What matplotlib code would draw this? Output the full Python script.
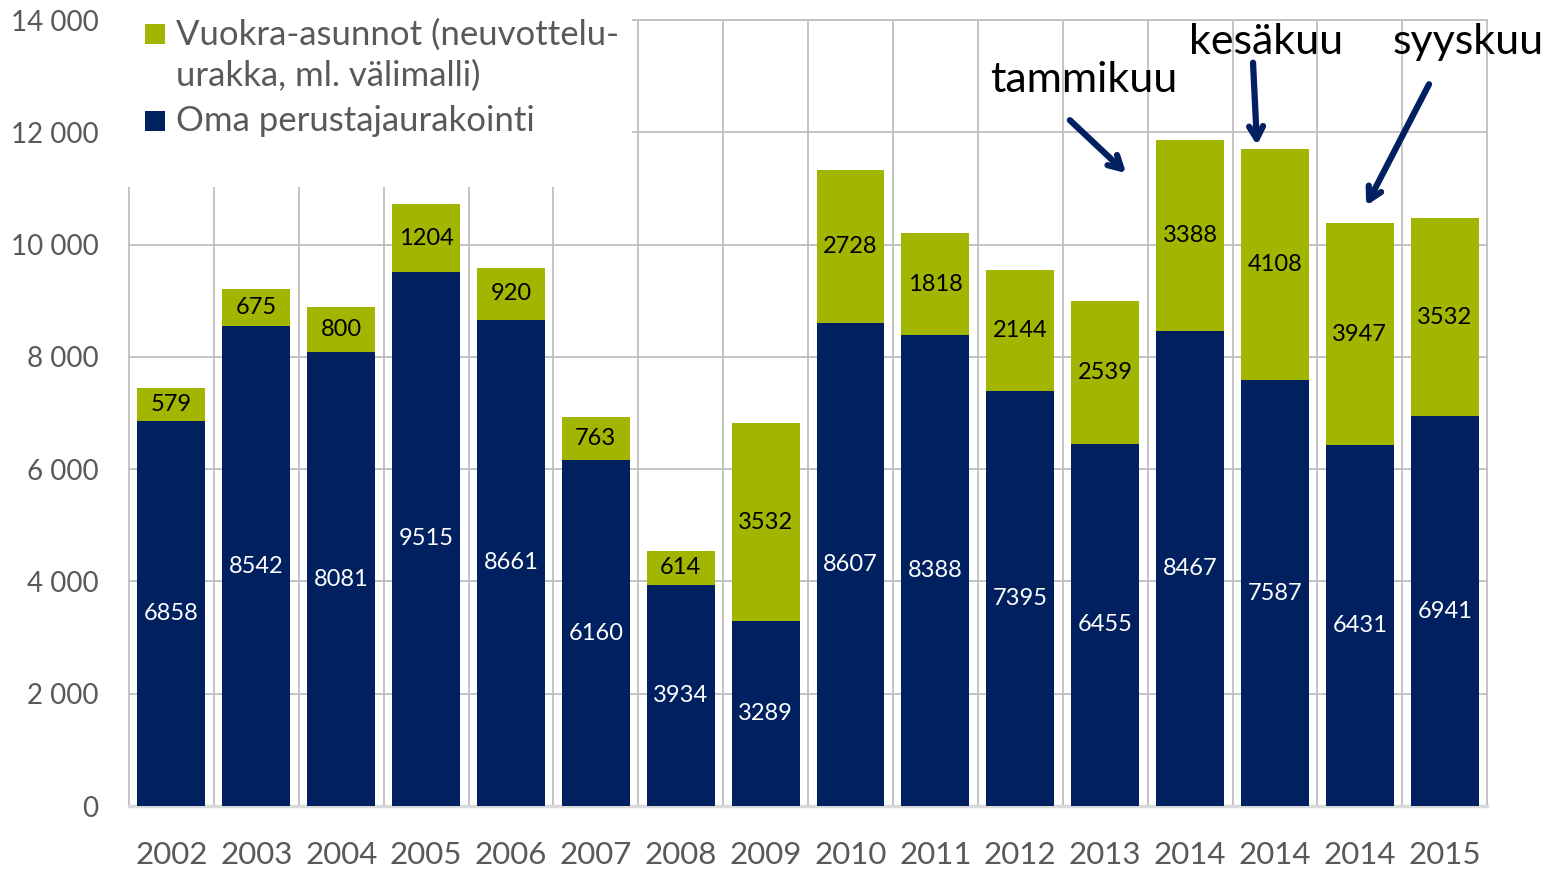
import matplotlib
matplotlib.use("Agg")
import matplotlib.pyplot as plt
from matplotlib.patches import Rectangle
import numpy as np

plt.rcParams['font.family'] = ['Lato', 'DejaVu Sans']

vuodet = ['2002', '2003', '2004', '2005', '2006', '2007', '2008', '2009',
          '2010', '2011', '2012', '2013', '2014', '2014', '2014', '2015']
oma = [6858, 8542, 8081, 9515, 8661, 6160, 3934, 3289,
       8607, 8388, 7395, 6455, 8467, 7587, 6431, 6941]
vuokra = [579, 675, 800, 1204, 920, 763, 614, 3532,
          2728, 1818, 2144, 2539, 3388, 4108, 3947, 3532]
y_ticks = [0, 2000, 4000, 6000, 8000, 10000, 12000, 14000]

# nuolet: (teksti, tekstin paikka, nuolen alku, nuolen kärki) datakoordinaateissa
nuolet = [
    ('tammikuu', (10.75, 12930), (10.56, 12250), (11.27, 11240)),
    ('kesäkuu', (12.90, 13610), (12.74, 13290), (12.79, 11720)),
    ('syyskuu', (15.28, 13610), (14.83, 12900), (14.06, 10650)),
]

vihrea = '#A2B500'
sininen = '#002060'
harmaa = '#BFBFBF'
W, H = 1554, 871

fig = plt.figure(figsize=(W / 100, H / 100), dpi=100)
ax = fig.add_axes([0.083, 0.0746, 0.874, 0.9024])

x = np.arange(len(vuodet))
ax.bar(x, oma, width=0.8, color=sininen, zorder=3)
ax.bar(x, vuokra, width=0.8, bottom=oma, color=vihrea, zorder=3)

for i in range(len(x)):
    ax.text(x[i], oma[i] / 2, str(oma[i]), ha='center', va='center',
            color='white', fontsize=17, zorder=4)
    ax.text(x[i], oma[i] + vuokra[i] / 2, str(vuokra[i]), ha='center', va='center',
            color='black', fontsize=17, zorder=4)

ax.set_xlim(-0.5, len(x) - 0.5)
ax.set_ylim(0, 14000)
ax.set_yticks(y_ticks)
ax.set_yticklabels([f'{v:,}'.replace(',', ' ') for v in y_ticks])
ax.set_xticks(x)
ax.set_xticklabels(vuodet)
ax.set_xticks(x[:-1] + 0.5, minor=True)
ax.tick_params(axis='both', which='both', length=0)
ax.tick_params(axis='y', labelsize=20, colors='#595959', pad=22)
ax.tick_params(axis='x', labelsize=22.5, colors='#595959', pad=25)

ax.grid(axis='y', which='major', color=harmaa, lw=1.3, zorder=0)
ax.grid(axis='x', which='minor', color=harmaa, lw=1.3, zorder=0)
ax.grid(axis='x', which='major', visible=False)
for s in ['left', 'right', 'top']:
    ax.spines[s].set_color(harmaa)
    ax.spines[s].set_linewidth(1.3)
ax.spines['bottom'].set_color('#D9D9D9')
ax.spines['bottom'].set_linewidth(2.5)

# legendan valkoinen tausta peittää ruudukon
ax.add_patch(Rectangle((-0.02, 0.7875), 0.39, 0.25, transform=ax.transAxes,
                       facecolor='white', edgecolor='none', zorder=2.6, clip_on=False))

# legenda käsin, jotta vihreä neliö on ensimmäisen rivin kohdalla
selitteet = [('Vuokra-asunnot (neuvottelu-\nurakka, ml. välimalli)', vihrea, 34, 55.5),
             ('Oma perustajaurakointi', sininen, 121, 121)]
for teksti, vari, y_nelio, y_teksti in selitteet:
    fig.patches.append(Rectangle((145 / W, 1 - (y_nelio + 10) / H), 20 / W, 20 / H,
                                 transform=fig.transFigure, facecolor=vari,
                                 edgecolor='none', zorder=5))
    fig.text(176 / W, 1 - y_teksti / H, teksti, ha='left', va='center',
             fontsize=25, color='#595959', linespacing=1.32, zorder=5)

for teksti, paikka, alku, karki in nuolet:
    ax.text(paikka[0], paikka[1], teksti, ha='center', va='center',
            fontsize=31, color='black', zorder=6, clip_on=False)
    ax.annotate('', xy=karki, xytext=alku, zorder=6,
                arrowprops=dict(arrowstyle='->,head_length=0.9,head_width=0.5',
                                color=sininen, lw=4.5))

fig.savefig('out.png', dpi=100)
